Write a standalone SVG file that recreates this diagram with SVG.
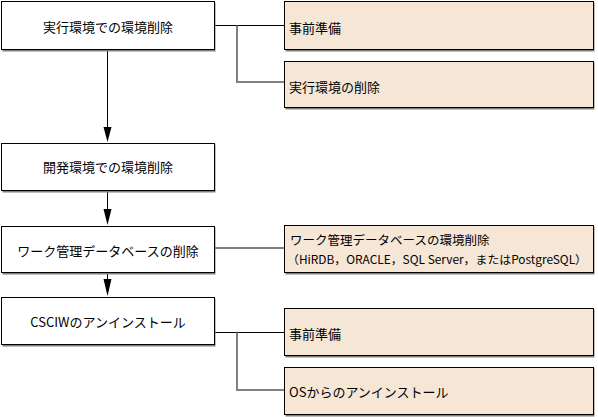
<svg xmlns="http://www.w3.org/2000/svg" width="598" height="417" viewBox="0 0 598 417">
<defs>
<style>
.shadow{fill:#808080;stroke:none}
.main{fill:#ffffff;stroke:#000000;stroke-width:1}
.sub{fill:#f6e6d6;stroke:#000000;stroke-width:1}
.t{font-family:"Noto Sans CJK JP","Liberation Sans",sans-serif;font-size:13px;fill:#000000}
.s{font-size:12.5px}
.xs{font-size:11.5px}
.c{text-anchor:middle}
.lk{stroke:#000000;stroke-width:1;fill:none}
.lg{stroke:#808080;stroke-width:2;fill:none}
.ah{fill:#000000}
</style>
</defs>
<g id="connectors">
<line class="lk" x1="107.5" y1="50" x2="107.5" y2="128"/>
<polygon class="ah" points="103.5,127 111.5,127 107.5,142"/>
<line class="lk" x1="107.5" y1="191" x2="107.5" y2="210"/>
<polygon class="ah" points="103.5,209 111.5,209 107.5,225"/>
<line class="lk" x1="107.5" y1="273" x2="107.5" y2="280"/>
<polygon class="ah" points="103.5,279 111.5,279 107.5,296"/>
<line class="lk" x1="214" y1="25.5" x2="284" y2="25.5"/>
<polyline class="lg" points="237,25.5 237,82 284,82"/>
<line class="lg" x1="214" y1="248" x2="284" y2="248"/>
<line class="lk" x1="214" y1="332.5" x2="284" y2="332.5"/>
<polyline class="lg" points="237,332.5 237,390 284,390"/>
</g>
<g id="n1"><rect class="shadow" x="2.5" y="2.5" width="213" height="49"/><rect class="main" x="1.5" y="1.5" width="213" height="48"/><text class="t c" x="108" y="32">実行環境での環境削除</text></g>
<g id="n2"><rect class="shadow" x="2.5" y="144.5" width="213" height="48"/><rect class="main" x="1.5" y="143.5" width="213" height="47"/><text class="t c" x="108" y="172">開発環境での環境削除</text></g>
<g id="n3"><rect class="shadow" x="2.5" y="227.5" width="213" height="47"/><rect class="main" x="1.5" y="226.5" width="213" height="46"/><text class="t c" x="108" y="256">ワーク管理データベースの削除</text></g>
<g id="n4"><rect class="shadow" x="2.5" y="298.5" width="213" height="48"/><rect class="main" x="1.5" y="297.5" width="213" height="47"/><text class="t c" x="108" y="327">CSCIWのアンインストール</text></g>
<g id="s1"><rect class="shadow" x="285.5" y="2.5" width="309" height="49"/><rect class="sub" x="284.5" y="1.5" width="309" height="48"/><text class="t" x="289" y="33">事前準備</text></g>
<g id="s2"><rect class="shadow" x="285.5" y="62.5" width="309" height="47"/><rect class="sub" x="284.5" y="61.5" width="309" height="46"/><text class="t" x="289" y="92">実行環境の削除</text></g>
<g id="s3"><rect class="shadow" x="285.5" y="226.5" width="309" height="48"/><rect class="sub" x="284.5" y="225.5" width="309" height="47"/><text class="t s" x="290" y="245">ワーク管理データベースの環境削除</text><text class="t xs" x="287" y="264" textLength="300" lengthAdjust="spacingAndGlyphs">（HiRDB，ORACLE，SQL Server，またはPostgreSQL）</text></g>
<g id="s4"><rect class="shadow" x="285.5" y="309.5" width="309" height="48"/><rect class="sub" x="284.5" y="308.5" width="309" height="47"/><text class="t" x="289" y="339">事前準備</text></g>
<g id="s5"><rect class="shadow" x="285.5" y="368.5" width="309" height="48"/><rect class="sub" x="284.5" y="367.5" width="309" height="47"/><text class="t" x="289" y="397">OSからのアンインストール</text></g>
</svg>
